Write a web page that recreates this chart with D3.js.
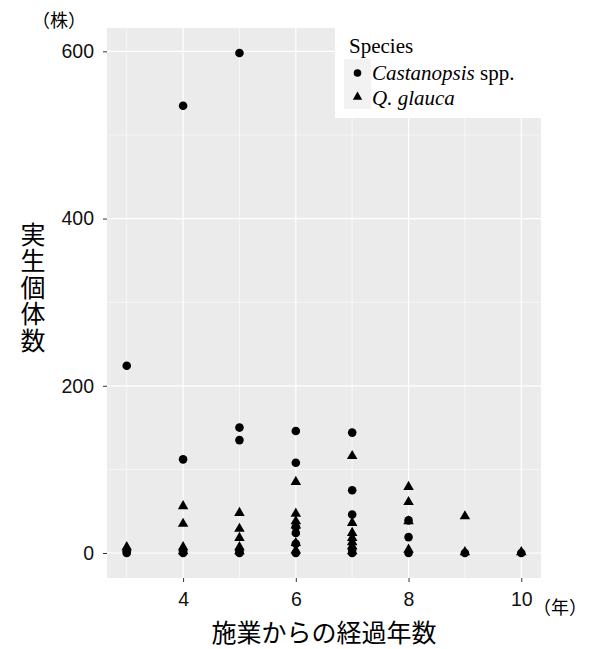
<!DOCTYPE html>
<html>
<head>
<meta charset="utf-8">
<script src="https://cdn.jsdelivr.net/npm/d3@7"></script>
<style>
  body { margin: 0; background: #fff; }
</style>
</head>
<body>
<div id="chart"></div>
<script>
// Castanopsis spp. (circles)
var castYear  = [3, 3, 3, 4, 4, 4, 4, 5, 5, 5, 5, 5, 6, 6, 6, 6, 6, 6, 7, 7, 7, 7, 7, 8, 8, 8, 9, 10];
var castCount = [224, 2, 0, 535, 112, 2, 0, 598, 150, 135, 3, 0, 146, 108, 31, 24, 11, 0, 144, 75, 46, 4, 0, 39, 19, 0, 0, 0];
// Q. glauca (triangles)
var glauYear  = [3, 4, 4, 4, 4, 5, 5, 5, 5, 5, 6, 6, 6, 6, 6, 6, 7, 7, 7, 7, 7, 7, 7, 8, 8, 8, 8, 9, 9, 10];
var glauCount = [7, 56, 35, 7, 2, 48, 29, 18, 7, 2, 85, 47, 38, 33, 12, 3, 116, 36, 24, 18, 13, 8, 2, 79, 61, 38, 4, 44, 1, 1];

var xTicks = [4, 6, 8, 10];
var xMinor = [3, 5, 7, 9];
var yTicks = [0, 200, 400, 600];
var yMinor = [100, 300, 500];

var W = 589, H = 649;
var panel = { left: 107, right: 541, top: 28, bottom: 578 };

var svg = d3.select("#chart")
    .append("svg")
    .attr("width", W)
    .attr("height", H);

var allYear = castYear.concat(glauYear);
var allCount = castCount.concat(glauCount);

function expand(ext) {
    var pad = (ext[1] - ext[0]) * 0.05;
    return [ext[0] - pad, ext[1] + pad];
}

var x = d3.scaleLinear()
    .domain(expand(d3.extent(allYear)))
    .range([panel.left, panel.right]);

var y = d3.scaleLinear()
    .domain(expand(d3.extent(allCount)))
    .range([panel.bottom, panel.top]);

// panel background
svg.append("rect")
    .attr("x", panel.left)
    .attr("y", panel.top)
    .attr("width", panel.right - panel.left)
    .attr("height", panel.bottom - panel.top)
    .attr("fill", "#ebebeb");

// minor grid
svg.selectAll(".xminor").data(xMinor).enter().append("line")
    .attr("x1", function (d) { return x(d); }).attr("x2", function (d) { return x(d); })
    .attr("y1", panel.top).attr("y2", panel.bottom)
    .attr("stroke", "#fff").attr("stroke-width", 0.6);
svg.selectAll(".yminor").data(yMinor).enter().append("line")
    .attr("y1", function (d) { return y(d); }).attr("y2", function (d) { return y(d); })
    .attr("x1", panel.left).attr("x2", panel.right)
    .attr("stroke", "#fff").attr("stroke-width", 0.6);

// major grid
svg.selectAll(".xmajor").data(xTicks).enter().append("line")
    .attr("x1", function (d) { return x(d); }).attr("x2", function (d) { return x(d); })
    .attr("y1", panel.top).attr("y2", panel.bottom)
    .attr("stroke", "#fff").attr("stroke-width", 1.2);
svg.selectAll(".ymajor").data(yTicks).enter().append("line")
    .attr("y1", function (d) { return y(d); }).attr("y2", function (d) { return y(d); })
    .attr("x1", panel.left).attr("x2", panel.right)
    .attr("stroke", "#fff").attr("stroke-width", 1.2);

// axes
var xAxis = svg.append("g")
    .attr("transform", "translate(0," + panel.bottom + ")")
    .call(d3.axisBottom(x).tickValues(xTicks).tickSize(4).tickPadding(10).tickFormat(d3.format("d")));
var yAxis = svg.append("g")
    .attr("transform", "translate(" + panel.left + ",0)")
    .call(d3.axisLeft(y).tickValues(yTicks).tickSize(4).tickPadding(9).tickFormat(d3.format("d")));

[xAxis, yAxis].forEach(function (g) {
    g.select(".domain").remove();
    g.selectAll(".tick line").attr("stroke", "#333").attr("stroke-width", 1);
    g.selectAll(".tick text")
        .attr("fill", "#111")
        .style("font-family", "'Liberation Sans', Arial, sans-serif")
        .style("font-size", "19.5px");
});

// points
var circles = castYear.map(function (d, i) { return { yr: d, n: castCount[i] }; });
var tris = glauYear.map(function (d, i) { return { yr: d, n: glauCount[i] }; });

svg.append("g").selectAll("circle").data(circles).enter().append("circle")
    .attr("cx", function (d) { return x(d.yr); })
    .attr("cy", function (d) { return y(d.n); })
    .attr("r", 4.3)
    .attr("fill", "#000");

var triSym = d3.symbol().type(d3.symbolTriangle).size(48);
svg.append("g").selectAll("path").data(tris).enter().append("path")
    .attr("transform", function (d) { return "translate(" + x(d.yr) + "," + y(d.n) + ")"; })
    .attr("d", triSym)
    .attr("fill", "#000");

// legend
var serif = "'Liberation Serif', 'Times New Roman', serif";
svg.append("rect")
    .attr("x", 335).attr("y", 18)
    .attr("width", W - 335).attr("height", 100)
    .attr("fill", "#fff");
svg.append("rect")
    .attr("x", 344).attr("y", 59)
    .attr("width", 27).attr("height", 50)
    .attr("fill", "#f2f2f2");
svg.append("text")
    .attr("x", 349).attr("y", 53)
    .style("font-family", serif)
    .style("font-size", "21px")
    .text("Species");
svg.append("circle")
    .attr("cx", 357.5).attr("cy", 73).attr("r", 3.8).attr("fill", "#000");
svg.append("path")
    .attr("transform", "translate(357.5,97)")
    .attr("d", d3.symbol().type(d3.symbolTriangle).size(38)).attr("fill", "#000");

var l1 = svg.append("text")
    .attr("x", 372).attr("y", 80)
    .style("font-family", serif)
    .style("font-size", "21px");
l1.append("tspan").style("font-style", "italic").text("Castanopsis");
l1.append("tspan").text(" spp.");
svg.append("text")
    .attr("x", 372).attr("y", 105)
    .style("font-family", serif)
    .style("font-size", "21px")
    .style("font-style", "italic")
    .text("Q. glauca");

// unit labels
var cjk = "'Noto Sans CJK JP', 'Noto Sans', sans-serif";
svg.append("text")
    .attr("x", 59).attr("y", 27)
    .attr("text-anchor", "middle")
    .style("font-family", cjk)
    .style("font-size", "18px")
    .text("（株）");
svg.append("text")
    .attr("x", 560).attr("y", 614)
    .attr("text-anchor", "middle")
    .style("font-family", cjk)
    .style("font-size", "18px")
    .text("（年）");

// axis titles
svg.append("text")
    .attr("x", (panel.left + panel.right) / 2).attr("y", 642)
    .attr("text-anchor", "middle")
    .style("font-family", cjk)
    .style("font-size", "25px")
    .text("施業からの経過年数");

svg.append("text")
    .attr("x", 33)
    .attr("y", 288)
    .attr("text-anchor", "middle")
    .style("writing-mode", "vertical-rl")
    .style("text-orientation", "upright")
    .style("letter-spacing", "1.5px")
    .style("font-family", cjk)
    .style("font-size", "25px")
    .text("実生個体数");
</script>
</body>
</html>
